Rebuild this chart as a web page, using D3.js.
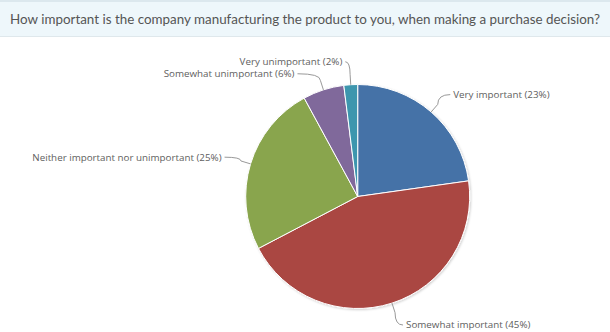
<!DOCTYPE html>
<html>
<head>
<meta charset="utf-8">
<script src="https://cdnjs.cloudflare.com/ajax/libs/d3/7.8.5/d3.min.js"></script>
<style>
  html, body { margin: 0; padding: 0; background: #fff; }
  svg { display: block; }
</style>
</head>
<body>
<svg id="chart" width="610" height="332"></svg>
<script>
// Survey answers and their shares (percent)
const title = "How important is the company manufacturing the product to you, when making a purchase decision?";
const categories = ["Very important", "Somewhat important", "Neither important nor unimportant", "Somewhat unimportant", "Very unimportant"];
const values = [23, 45, 25, 6, 2];
const colors = ["#4572A7", "#AA4643", "#89A54E", "#80699B", "#3D96AE"];

const W = 610, H = 332;
const cx = 357.7, cy = 196.5, r = 112;
const labelDist = 23, pad = 7, lineH = 12;

const svg = d3.select("#chart");

// Header band
svg.append("rect").attr("x", 0).attr("y", 0).attr("width", W).attr("height", 37)
  .attr("fill", "#eef7fb");
svg.append("rect").attr("x", 0).attr("y", 0).attr("width", W).attr("height", 2)
  .attr("fill", "#dce8ee");
svg.append("line").attr("x1", 0).attr("x2", W).attr("y1", 36.5).attr("y2", 36.5)
  .attr("stroke", "#dfe8ec");
svg.append("text").attr("x", 10).attr("y", 24)
  .attr("font-family", "Lato, 'Open Sans', sans-serif").attr("font-size", 13.4)
  .attr("fill", "#555").text(title);

const data = categories.map((c, i) => ({ name: c, value: values[i], color: colors[i] }));
const pie = d3.pie().sort(null).value(d => d.value);
const arcs = pie(data);
const arc = d3.arc().innerRadius(0).outerRadius(r);

// soft shadow under the slices
const defs = svg.append("defs");
const f = defs.append("filter").attr("id", "sh").attr("x", "-10%").attr("y", "-10%").attr("width", "120%").attr("height", "120%");
f.append("feDropShadow").attr("dx", 1).attr("dy", 1).attr("stdDeviation", 1.2)
  .attr("flood-color", "#000").attr("flood-opacity", 0.18);

const g = svg.append("g").attr("transform", `translate(${cx},${cy})`);
g.append("g").attr("filter", "url(#sh)")
  .selectAll("path").data(arcs).join("path")
  .attr("d", arc)
  .attr("fill", d => d.data.color)
  .attr("stroke", "#fff").attr("stroke-width", 1).attr("stroke-linejoin", "round");

// Label layout: y from mid angle on an outer circle, overlaps pushed apart per side
const R = r + labelDist;
const labels = arcs.map(d => {
  const a = (d.startAngle + d.endAngle) / 2;
  return { d, a, side: Math.sin(a) >= 0 ? 1 : -1, y: -R * Math.cos(a) };
});
[1, -1].forEach(side => {
  const ls = labels.filter(l => l.side === side).sort((p, q) => p.y - q.y);
  for (let i = 1; i < ls.length; i++) {
    if (ls[i].y - ls[i - 1].y < lineH) ls[i].y = ls[i - 1].y + lineH;
  }
});
labels.forEach(l => {
  const dy = Math.min(Math.abs(l.y), R);
  l.x = l.side * Math.sqrt(R * R - dy * dy);
});

const lg = g.append("g");
labels.forEach(l => {
  const a = l.a;
  const E = [r * Math.sin(a), -r * Math.cos(a)];
  const B = [(r + 10) * Math.sin(a), -(r + 10) * Math.cos(a)];
  const S = [l.x + l.side * (pad - 3), l.y];
  const path = d3.path();
  path.moveTo(S[0], S[1]);
  path.quadraticCurveTo(B[0], S[1], B[0], B[1]);
  path.lineTo(E[0], E[1]);
  lg.append("path").attr("d", path.toString())
    .attr("fill", "none").attr("stroke", "#999").attr("stroke-width", 1);
  lg.append("text")
    .attr("x", l.x + l.side * pad).attr("y", l.y)
    .attr("dy", "0.35em")
    .attr("text-anchor", l.side > 0 ? "start" : "end")
    .attr("font-family", "'Open Sans', sans-serif").attr("font-size", 9.8)
    .attr("fill", "#606060")
    .text(`${l.d.data.name} (${l.d.data.value}%)`);
});
</script>
</body>
</html>
